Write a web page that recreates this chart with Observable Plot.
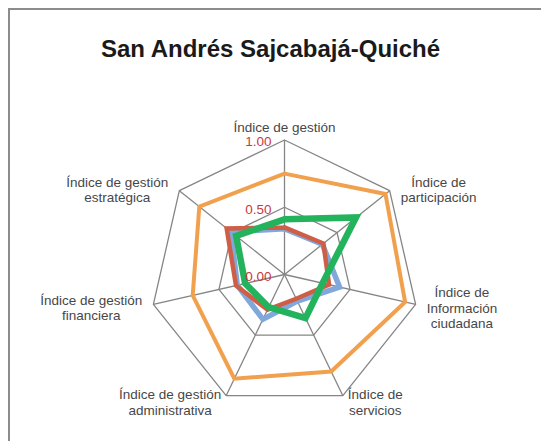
<!DOCTYPE html>
<html><head><meta charset="utf-8">
<script src="https://cdn.jsdelivr.net/npm/d3@7"></script>
<script src="https://cdn.jsdelivr.net/npm/@observablehq/plot@0.6"></script>
<style>
body{margin:0;background:#fff;font-family:"Liberation Sans",Arial,sans-serif;}
#wrap{position:relative;width:541px;height:441px;overflow:hidden;background:#fff;}
#frame{position:absolute;left:8px;top:8px;width:700px;height:600px;border:2px solid #8c8c8c;box-sizing:border-box;}
#title{position:relative;height:90px;box-sizing:border-box;padding-top:35px;text-align:center;font-weight:bold;font-size:24px;line-height:28px;color:#1a1a1a;}
#chart{position:relative;height:351px;}
</style></head><body>
<div id="wrap"><div id="frame"></div><div id="title">San Andrés Sajcabajá-Quiché</div><div id="chart"></div></div>
<script>
const categories = ["Índice de gestión","Índice de\nparticipación","Índice de\nInformación\nciudadana","Índice de\nservicios","Índice de gestión\nadministrativa","Índice de gestión\nfinanciera","Índice de gestión\nestratégica"];
const seriesBlue   = [0.34,0.36,0.42,0.22,0.37,0.36,0.51];
const seriesRed    = [0.35,0.37,0.34,0.20,0.29,0.37,0.55];
const seriesOrange = [0.75,0.96,0.92,0.80,0.86,0.70,0.81];
const seriesGreen  = [0.41,0.68,0.29,0.36,0.27,0.30,0.46];
const ticks = [0, 0.5, 1];
const tickLabels = ["0.00","0.50","1.00"];

const W = 541, H = 351, cx = 284, cy = 184, R = 134.5;
const N = categories.length;
const ang = i => 2 * Math.PI * i / N;
const px = (v, i) => v * Math.sin(ang(i));
const py = (v, i) => -v * Math.cos(ang(i));
function poly(values, key) {
  const pts = values.map((v, i) => ({x: px(v, i), y: py(v, i), k: key}));
  pts.push(pts[0]);
  return pts;
}
const rings = ticks.filter(t => t > 0).flatMap(t => poly(categories.map(() => t), "r" + t));

const seriesStyle = [
  {values: seriesOrange, stroke: "#f1a14e", width: 4},
  {values: seriesBlue, stroke: "#80a8db", width: 5.5},
  {values: seriesRed, stroke: "#cf5e47", width: 4.5},
  {values: seriesGreen, stroke: "#22b35c", width: 6.5}
];

const ctx = document.createElement("canvas").getContext("2d");
const labelFont = 13.5;
ctx.font = labelFont + "px 'Liberation Sans'";
const labelMarks = categories.map((c, i) => {
  const s = Math.sin(ang(i)), co = Math.cos(ang(i));
  const w = Math.max(...c.split("\n").map(l => ctx.measureText(l).width));
  let dx = 0, dy;
  if (Math.abs(s) < 0.01) { dy = -13; }
  else {
    const gap = co < -0.5 ? 5 : 11;
    dx = Math.sign(s) * (w / 2 + gap);
    dy = -co * 5 + 2;
  }
  return Plot.text([c], {x: px(1, i), y: py(1, i), text: d => d, dx, dy,
    textAnchor: "middle", lineAnchor: "middle", lineHeight: 1.15,
    fontSize: labelFont, fill: "#474747"});
});

const chart = Plot.plot({
  width: W, height: H, margin: 0,
  style: {fontFamily: "'Liberation Sans', Arial, sans-serif", background: "transparent", overflow: "visible"},
  x: {axis: null, domain: [-cx / R, (W - cx) / R], range: [0, W]},
  y: {axis: null, domain: [-cy / R, (H - cy) / R], range: [0, H]},
  marks: [
    Plot.link(categories, {x1: 0, y1: 0, x2: (d, i) => px(1, i), y2: (d, i) => py(1, i), stroke: "#858585", strokeWidth: 1.3}),
    Plot.line(rings, {x: "x", y: "y", z: "k", stroke: "#858585", strokeWidth: 1.3, strokeLinejoin: "miter"}),
    ...seriesStyle.map(sr => Plot.line(poly(sr.values, "s"), {x: "x", y: "y", stroke: sr.stroke, strokeWidth: sr.width, strokeLinejoin: "miter", strokeMiterlimit: 10})),
    Plot.text(ticks, {x: 0, y: t => -t, text: (t, i) => tickLabels[i], textAnchor: "end", lineAnchor: "middle", dx: -13, dy: 2, fill: "#c8393f", fontSize: 13.5}),
    ...labelMarks
  ]
});
document.getElementById("chart").appendChild(chart);
</script>
</body></html>
